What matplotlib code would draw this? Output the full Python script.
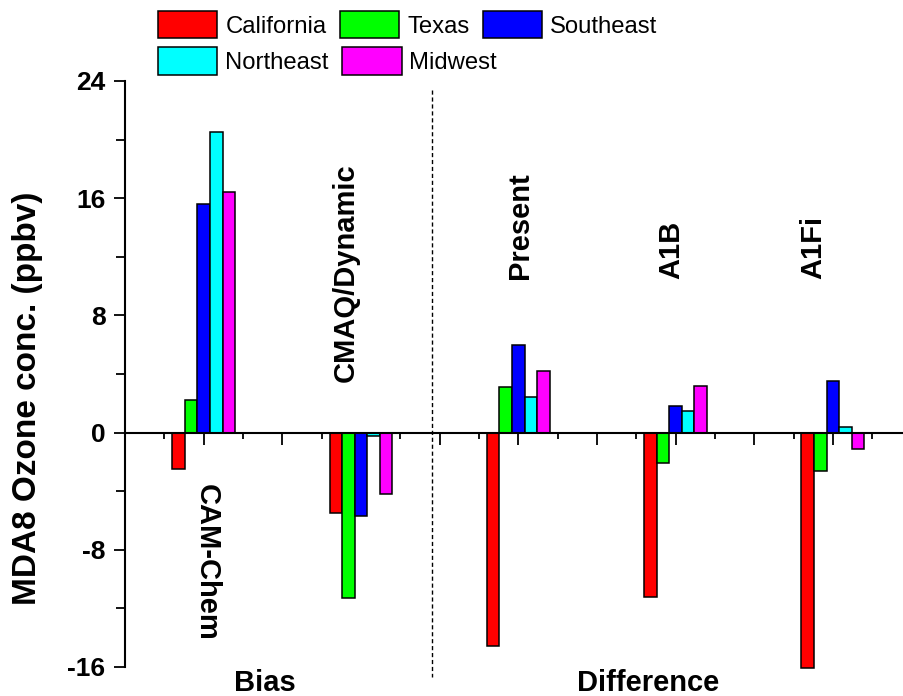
import numpy as np
import matplotlib
matplotlib.use("Agg")
import matplotlib.pyplot as plt
from matplotlib.ticker import MultipleLocator

plt.rcParams['font.family'] = ['Liberation Sans', 'DejaVu Sans']
plt.rcParams['axes.unicode_minus'] = False

regions = ["California", "Texas", "Southeast", "Northeast", "Midwest"]
colors = ["#ff0000", "#00ff00", "#0000ff", "#00ffff", "#ff00ff"]
groups = ["CAM-Chem", "CMAQ/Dynamic", "Present", "A1B", "A1Fi"]
group_pos = [2, 6, 10, 14, 18]

# MDA8 ozone (ppbv), one list per region, in the order of groups
california = [-2.5, -5.5, -14.6, -11.2, -16.1]
texas = [2.2, -11.3, 3.1, -2.1, -2.6]
southeast = [15.6, -5.7, 6.0, 1.8, 3.5]
northeast = [20.5, -0.2, 2.4, 1.5, 0.35]
midwest = [16.4, -4.2, 4.2, 3.2, -1.1]
series = [california, texas, southeast, northeast, midwest]

fig = plt.figure(figsize=(9.04, 6.96), dpi=100)
ax = fig.add_axes([125/904, 1-667/696, 779/904, 586/696])

w = 0.32
handles = []
for i, (name, vals, c) in enumerate(zip(regions, series, colors)):
    xs = np.array(group_pos) + (i - 2) * w
    b = ax.bar(xs, vals, width=w, color=c, edgecolor="black", linewidth=1.1,
               label=name, zorder=3, clip_on=False)
    handles.append(b)

ax.set_xlim(0, 779/39.33)
ax.set_ylim(-16, 24)

ax.spines['top'].set_visible(False)
ax.spines['right'].set_visible(False)
ax.spines['bottom'].set_position(('data', 0))
ax.spines['left'].set_linewidth(1.5)
ax.spines['bottom'].set_linewidth(1.5)
ax.spines['bottom'].set_zorder(4)

ax.set_yticks([-16, -8, 0, 8, 16, 24])
ax.yaxis.set_minor_locator(MultipleLocator(4))
ax.set_xticks(range(0, 20, 2))
ax.set_xticklabels([])
ax.xaxis.set_minor_locator(MultipleLocator(1))
ax.tick_params(axis='y', which='major', direction='out', length=8, width=1.3,
               labelsize=19, pad=6)
ax.tick_params(axis='y', which='minor', direction='out', length=6.5, width=1.3)
ax.tick_params(axis='x', which='major', direction='out', length=8.5, width=1.3)
ax.tick_params(axis='x', which='minor', direction='out', length=4.5, width=1.3)
for t in ax.get_yticklabels():
    t.set_fontweight('bold')

# divider between bias and difference
ax.plot([7.8, 7.8], [23.4, -16.7], color="black", lw=1, ls=(0, (3, 2)),
        clip_on=False, zorder=2)

lab = dict(fontsize=21, fontweight='bold')
ax.text(2.08, -3.5, "CAM-Chem", rotation=-90, ha='center', va='top', **lab)
ax.text(5.62, 10.9, "CMAQ/Dynamic", rotation=90, ha='center', va='center', **lab)
ax.text(10.05, 10.5, "Present", rotation=90, ha='center', va='bottom', **lab)
ax.text(13.9, 10.5, "A1B", rotation=90, ha='center', va='bottom', **lab)
ax.text(17.5, 10.5, "A1Fi", rotation=90, ha='center', va='bottom', **lab)

ax.text(3.56, -17.1, "Bias", ha='center', va='center', clip_on=False, **lab)
ax.text(13.3, -17.1, "Difference", ha='center', va='center', clip_on=False, **lab)

fig.text(28/904, 1-398.5/696, "MDA8 Ozone conc. (ppbv)", rotation=90,
         ha='center', va='center', fontsize=24, fontweight='bold')

# legend laid out as two free-flowing rows
leg_kw = dict(loc='upper left', frameon=False, fontsize=17.2, borderpad=0,
              borderaxespad=0, handlelength=2.5, handleheight=1.37,
              handletextpad=0.33, columnspacing=0.55)
for row, top in [([0, 1, 2], 11), ([3, 4], 47.5)]:
    fig.legend([handles[k] for k in row], [regions[k] for k in row],
               ncol=len(row), bbox_to_anchor=(157.7/904, 1-top/696), **leg_kw)

fig.savefig("out.png", dpi=100)
